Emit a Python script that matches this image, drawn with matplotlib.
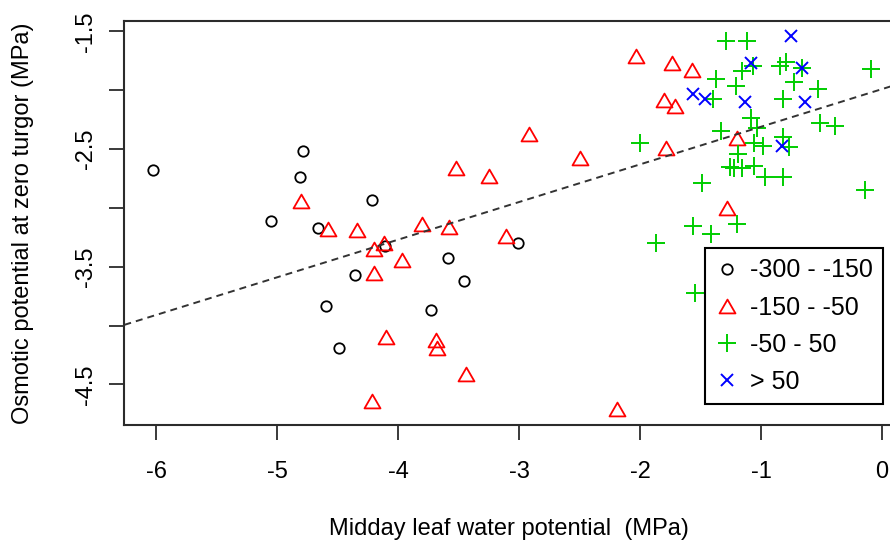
import matplotlib.pyplot as plt
import numpy as np
from matplotlib.path import Path

plt.rcParams['font.family'] = ['Liberation Sans', 'DejaVu Sans']
plt.rcParams['axes.unicode_minus'] = False

# classes of the legend
labels = ['-300 - -150', '-150 - -50', '-50 - 50', '> 50']

# -300 - -150
x_a = [-6.03, -4.79, -4.81, -5.05, -4.66, -4.60, -4.49, -4.22, -4.11, -3.01, -3.59, -4.36, -3.46, -3.73]
y_a = [-2.68, -2.52, -2.74, -3.11, -3.17, -3.83, -4.19, -2.93, -3.32, -3.30, -3.43, -3.57, -3.62, -3.87]

# -150 - -50
x_b = [-4.80, -4.58, -2.92, -3.52, -3.25, -4.34, -3.80, -3.58, -3.11, -4.12, -4.20, -3.97, -4.20, -4.10,
       -3.69, -3.68, -3.44, -4.22, -2.50, -2.03, -1.74, -1.57, -1.80, -1.71, -1.79, -1.20, -1.28, -2.19]
y_b = [-2.94, -3.18, -2.37, -2.66, -2.73, -3.19, -3.14, -3.16, -3.24, -3.30, -3.35, -3.44, -3.55, -4.10,
       -4.12, -4.19, -4.41, -4.64, -2.58, -1.71, -1.77, -1.83, -2.08, -2.13, -2.49, -2.41, -3.00, -4.71]

# -50 - 50
x_c = [-1.29, -1.12, -1.07, -1.16, -1.21, -1.37, -0.84, -0.79, -0.66, -0.73, -0.53, -1.40, -0.82,
       -1.08, -1.03, -0.51, -0.39, -0.09, -0.14, -1.33, -1.06, -0.98, -0.82, -0.77, -1.19, -1.22,
       -1.16, -1.26, -1.06, -0.97, -0.82, -1.49, -2.00, -1.56, -1.41, -1.87, -1.20, -1.55]
y_c = [-1.58, -1.58, -1.79, -1.84, -1.96, -1.90, -1.79, -1.76, -1.81, -1.93, -1.99, -2.07, -2.07,
       -2.24, -2.32, -2.28, -2.30, -1.82, -2.85, -2.35, -2.45, -2.47, -2.40, -2.48, -2.54, -2.66,
       -2.66, -2.65, -2.64, -2.74, -2.74, -2.79, -2.45, -3.15, -3.22, -3.30, -3.14, -3.72]

# > 50
x_d = [-0.75, -1.08, -0.66, -1.56, -1.46, -1.13, -0.64, -0.83]
y_d = [-1.54, -1.77, -1.81, -2.03, -2.07, -2.10, -2.10, -2.47]

# dashed regression line
fit_intercept = -1.99
fit_slope = 0.32

x_ticks = [-6, -5, -4, -3, -2, -1, 0]
y_ticks = [-4.5, -4, -3.5, -3, -2.5, -2, -1.5]
y_ticklabels = ['-4.5', '', '-3.5', '', '-2.5', '', '-1.5']

# R style triangle (pch 2)
tri = Path([(-1, -0.866), (1, -0.866), (0, 0.866), (-1, -0.866)], closed=True)

fig = plt.figure(figsize=(8.9, 5.41), dpi=100)
ax = fig.add_axes([0.1397, 0.2144, 0.8637, 0.7468])

ax.plot(x_a, y_a, ls='none', marker='o', ms=7.5, mew=1.3, mfc='none', mec='black', label=labels[0])
ax.plot(x_b, y_b, ls='none', marker=tri, ms=11.5, mew=1.3, mfc='none', mec='#FF0000', label=labels[1])
ax.plot(x_c, y_c, ls='none', marker='+', ms=12.7, mew=1.4, color='#00CD00', label=labels[2])
ax.plot(x_d, y_d, ls='none', marker='x', ms=9, mew=1.4, color='#0000FF', label=labels[3])

ax.axline((0, fit_intercept), slope=fit_slope, color='#333333', lw=1.4, dashes=(3.6, 2.6))

ax.set_xlim(-6.264, 0.091)
ax.set_ylim(-4.846, -1.411)
ax.set_xticks(x_ticks)
ax.set_xticklabels([str(t) for t in x_ticks])
ax.set_yticks(y_ticks)
ax.set_yticklabels(y_ticklabels, rotation=90, va='center')

for s in ax.spines.values():
    s.set_color('#2b2b2b')
    s.set_linewidth(1.5)
ax.tick_params(axis='both', direction='out', length=11, width=1.3, color='#2b2b2b', labelsize=17)
ax.tick_params(axis='x', pad=15)
ax.tick_params(axis='y', pad=9)

ax.set_xlabel('Midday leaf water potential  (MPa)', fontsize=17)
ax.set_ylabel('Osmotic potential at zero turgor (MPa)', fontsize=17)
ax.xaxis.set_label_coords(0.5, -0.229)
ax.yaxis.set_label_coords(-0.118, 0.5)

leg = ax.legend(loc='lower right', bbox_to_anchor=(0.9866, 0.052), borderaxespad=0,
                fontsize=18, frameon=True, fancybox=False, framealpha=1, edgecolor='black',
                handlelength=1.0, handletextpad=0.4, borderpad=0.4, labelspacing=0.53)
leg.get_frame().set_linewidth(1.5)

plt.savefig('out.png', dpi=100)
